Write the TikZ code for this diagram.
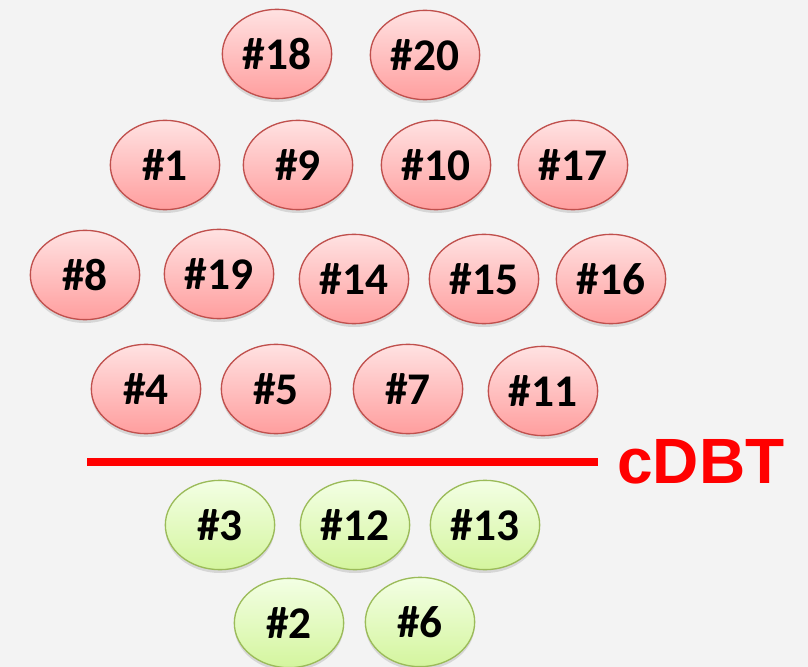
\documentclass[tikz,border=0pt]{standalone}
\usepackage{fontspec}
\setmainfont{Carlito}
\newfontfamily\cutfont{Liberation Sans}
\usetikzlibrary{shapes.geometric,shadows,positioning}
\definecolor{bgpaper}{RGB}{243,243,243}
\definecolor{redtop}{RGB}{255,226,226}
\definecolor{redbot}{RGB}{255,158,158}
\definecolor{redrim}{RGB}{192,80,77}
\definecolor{greentop}{RGB}{243,255,228}
\definecolor{greenbot}{RGB}{212,245,158}
\definecolor{greenrim}{RGB}{155,187,89}
\definecolor{cutred}{RGB}{255,0,0}
\tikzset{
  sample/.style={ellipse, minimum width=82pt, minimum height=67pt, inner sep=0pt,
    line width=1pt, font=\bfseries\fontsize{34}{34}\selectfont,
    drop shadow={shadow xshift=0pt, shadow yshift=-2.5pt, opacity=0.25}},
  above cut/.style={sample, draw=redrim, top color=redtop, bottom color=redbot},
  below cut/.style={sample, draw=greenrim, top color=greentop, bottom color=greenbot},
}

\begin{document}
\begin{tikzpicture}[x=0.75pt, y=-0.75pt]
  % page
  \fill[bgpaper] (0,0) rectangle (808,667);
  \useasboundingbox (0,0) rectangle (808,667);
  % samples above the cut-off
  \foreach \px/\py/\id in {277/54/18, 425/55/20,
      165/165/1, 298/165/9, 436/165/10, 573/165/17,
      85/275/8, 219/274/19, 354/279/14, 484/279/15, 611/279/16,
      146/389/4, 276/389/5, 408/389/7, 543/391/11}
    \node[above cut] (s\id) at (\px,\py) {\#\id};
  % cut-off line
  \coordinate (cut west) at (87,462);
  \coordinate (cut east) at (598,462);
  \draw[cutred, line width=6pt] (cut west) -- (cut east);
  \node[right=11pt of cut east, text=cutred, font=\cutfont\bfseries\fontsize{48}{48}\selectfont] (cdbt) {cDBT};
  % samples below the cut-off
  \foreach \px/\py/\id in {220/525/3, 355/525/12, 485/525/13,
      289/623/2, 420/622/6}
    \node[below cut] (s\id) at (\px,\py) {\#\id};
\end{tikzpicture}
\end{document}
